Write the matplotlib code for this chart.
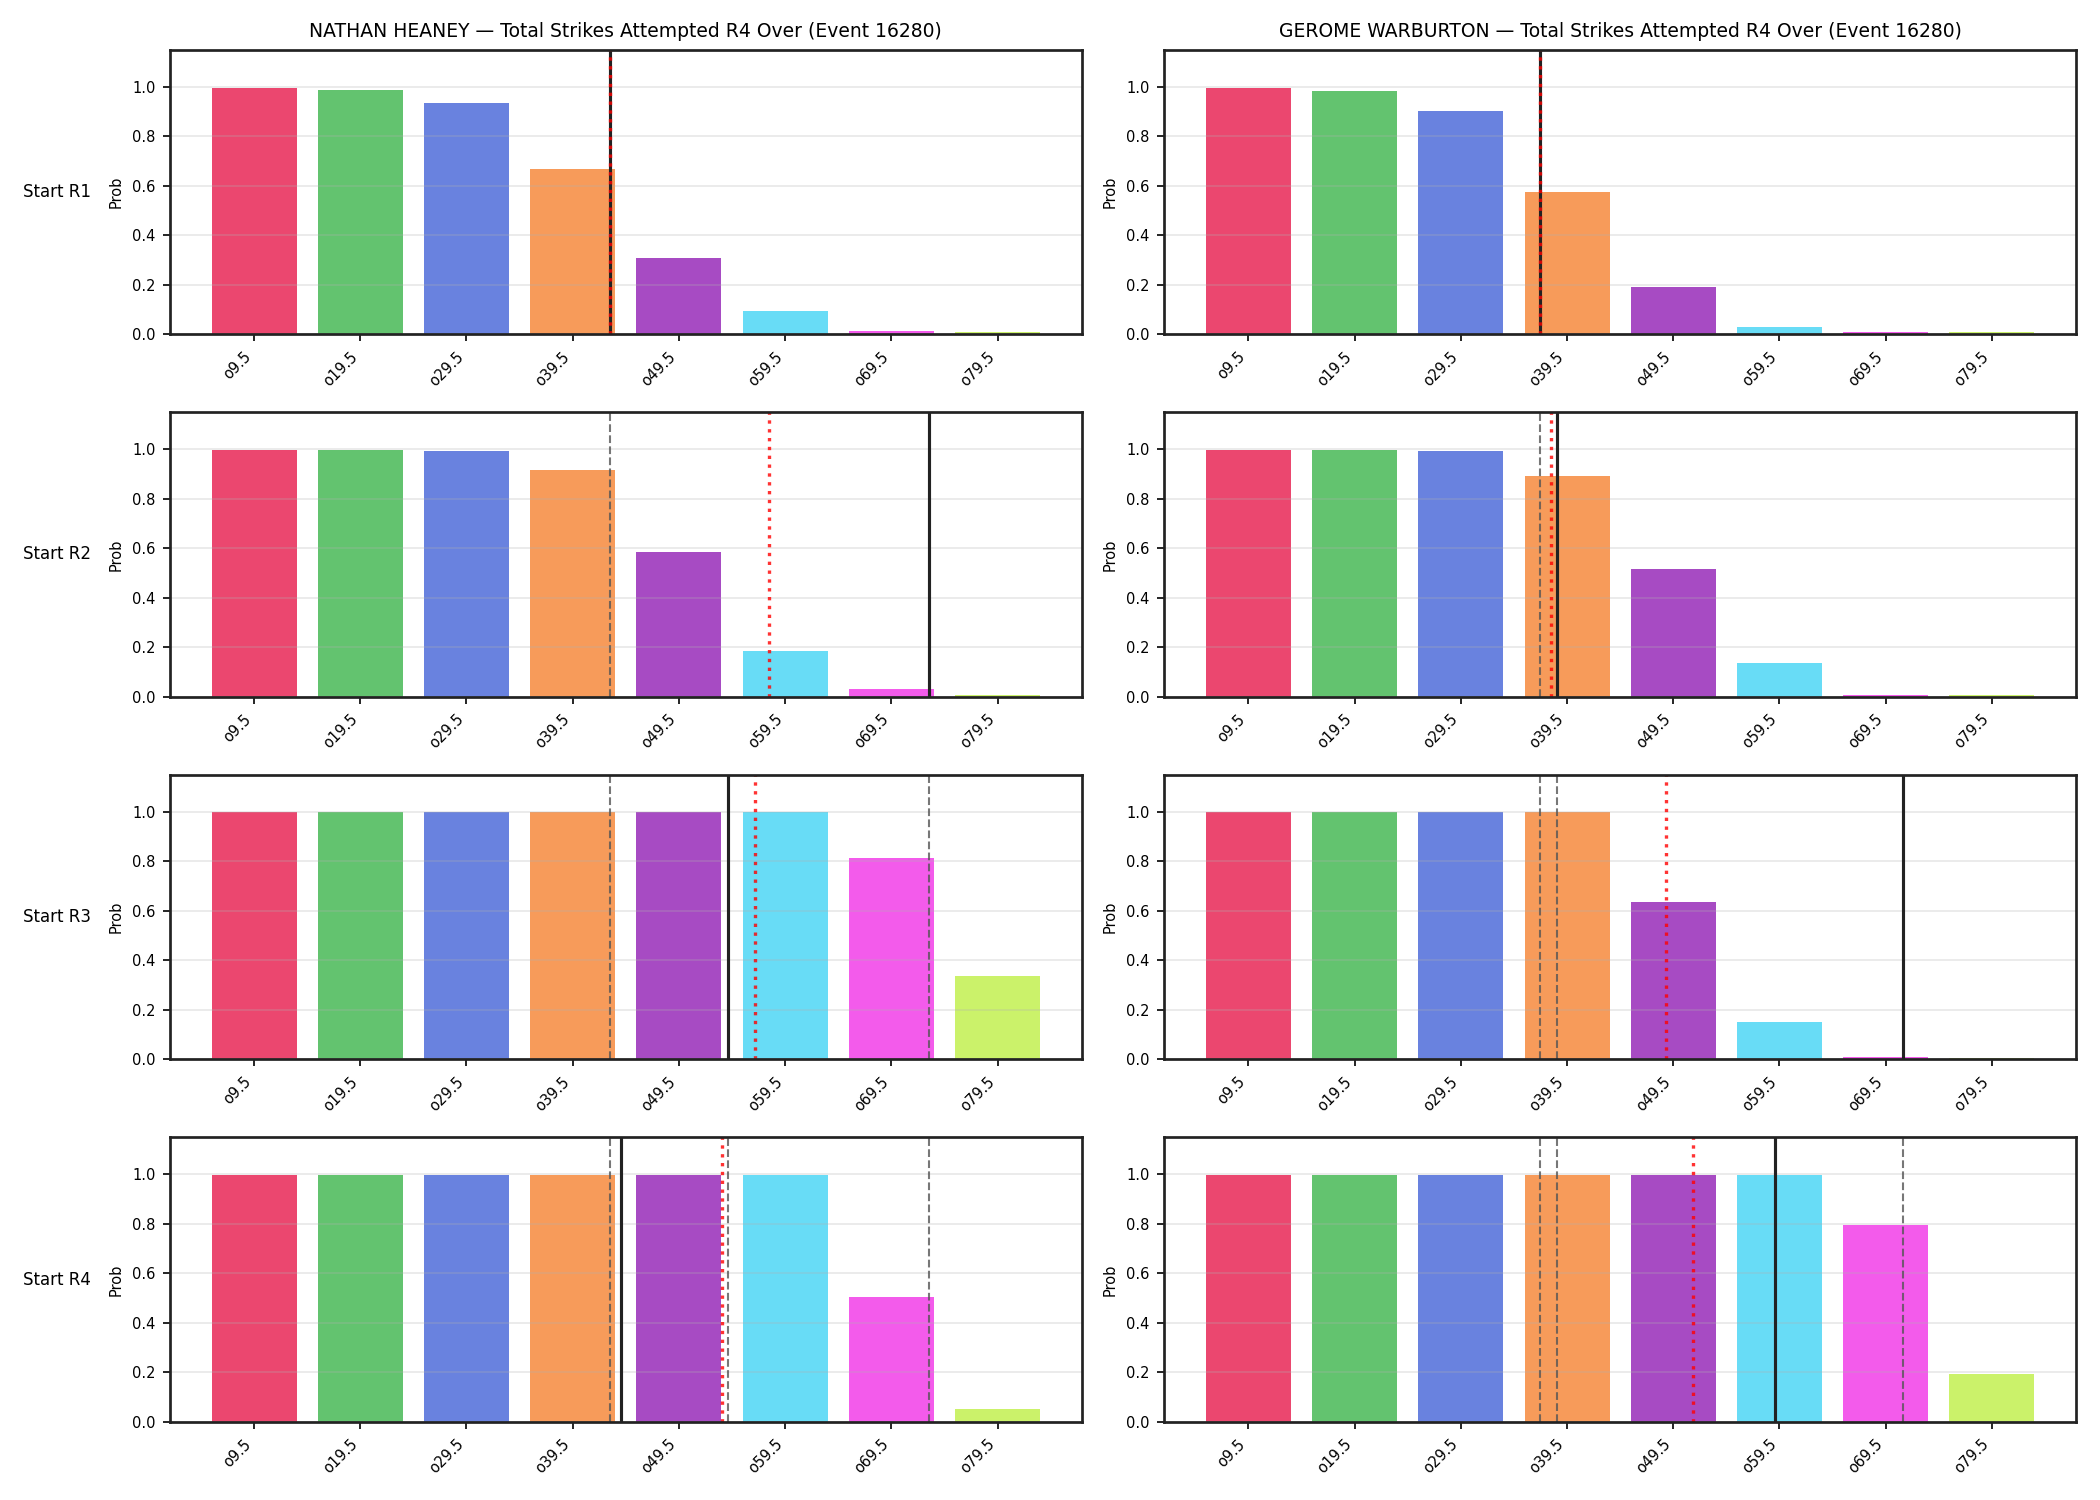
import numpy as np
import matplotlib
matplotlib.use("Agg")
import matplotlib.pyplot as plt

event_id = 16280
market = "Total Strikes Attempted R4 Over"
fighters = ["NATHAN HEANEY", "GEROME WARBURTON"]
rounds = ["Start R1", "Start R2", "Start R3", "Start R4"]

lines = [9.5, 19.5, 29.5, 39.5, 49.5, 59.5, 69.5, 79.5]
labels = ["o9.5", "o19.5", "o29.5", "o39.5", "o49.5", "o59.5", "o69.5", "o79.5"]

colors = ['#e6194b', '#3cb44b', '#4363d8', '#f58231',
          '#911eb4', '#42d4f4', '#f032e6', '#bfef45']

# over-probabilities per round, one list per fighter
heaney_probs = [
    [0.993, 0.985, 0.933, 0.667, 0.309, 0.095, 0.016, 0.010],
    [0.997, 0.997, 0.993, 0.916, 0.584, 0.186, 0.032, 0.008],
    [0.997, 0.997, 0.997, 0.997, 0.997, 0.997, 0.812, 0.336],
    [0.997, 0.997, 0.997, 0.997, 0.997, 0.997, 0.504, 0.051],
]
warburton_probs = [
    [0.993, 0.981, 0.901, 0.574, 0.192, 0.031, 0.010, 0.009],
    [0.997, 0.997, 0.993, 0.892, 0.516, 0.139, 0.010, 0.008],
    [0.997, 0.997, 0.997, 0.997, 0.636, 0.152, 0.012, 0.008],
    [0.997, 0.997, 0.997, 0.997, 0.997, 0.997, 0.795, 0.193],
]

# projected totals (black solid) and model mean (red dotted), in strikes
heaney_proj = [43.0, 73.0, 54.1, 44.06]
heaney_mean = [43.0, 58.0, 56.7, 53.6]
warburton_proj = [37.0, 38.6, 71.1, 59.05]
warburton_mean = [37.0, 38.0, 48.8, 51.4]

all_probs = [heaney_probs, warburton_probs]
all_proj = [heaney_proj, warburton_proj]
all_mean = [heaney_mean, warburton_mean]

idx = np.arange(len(lines))


def to_pos(v):
    # map strike count onto the categorical bar axis
    return (v - lines[0]) / (lines[1] - lines[0])


fig, axes = plt.subplots(4, 2, figsize=(14, 10), dpi=150)
fig.subplots_adjust(left=0.081, right=0.9885, top=0.967, bottom=0.052,
                    wspace=0.091, hspace=0.272)

for c in range(2):
    for r in range(4):
        ax = axes[r, c]
        ax.bar(idx, all_probs[c][r], color=colors, alpha=0.8, width=0.8)
        ax.set_ylim(0, 1.15)
        ax.set_xticks(idx)
        ax.set_xticklabels(labels, rotation=45, ha='right', fontsize=7)
        ax.tick_params(axis='y', labelsize=7)
        ax.set_ylabel("Prob", fontsize=7)
        ax.grid(axis='y', alpha=0.3)
        for s in ax.spines.values():
            s.set_linewidth(1.3)
            s.set_color('#222222')
        # earlier projections
        for prev in all_proj[c][:r]:
            ax.axvline(to_pos(prev), color='#555555', linestyle='--', linewidth=1, alpha=0.8)
        ax.axvline(to_pos(all_proj[c][r]), color='#222222', linewidth=1.5)
        ax.axvline(to_pos(all_mean[c][r]), color='red', linestyle=':', linewidth=1.6, alpha=0.8)
        if r == 0:
            ax.set_title(f"{fighters[c]} \u2014 {market} (Event {event_id})", fontsize=9)
        if c == 0:
            ax.text(-0.161, 0.5, rounds[r], transform=ax.transAxes,
                    ha='left', va='center', fontsize=8)

plt.savefig("out.png", dpi=150)
